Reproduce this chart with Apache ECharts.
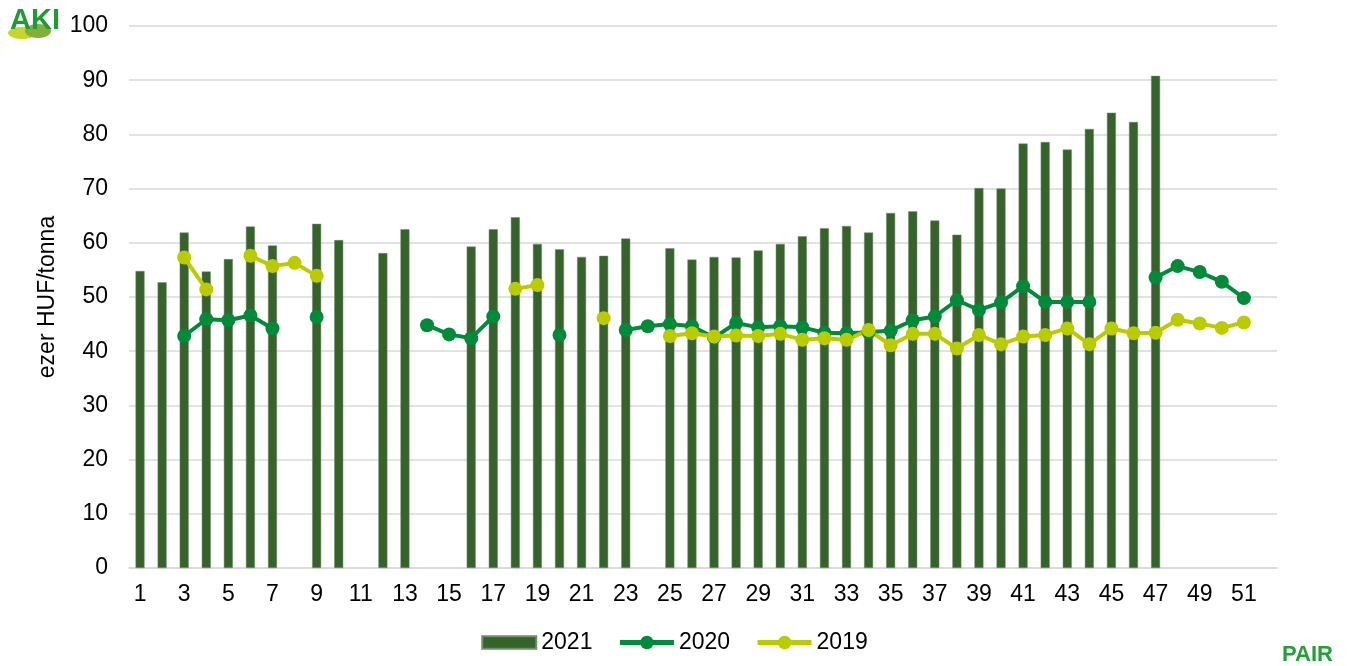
<!DOCTYPE html>
<html>
<head>
<meta charset="utf-8">
<script src="https://cdn.jsdelivr.net/npm/echarts@6/dist/echarts.min.js"></script>
<style>
html,body{margin:0;padding:0;background:#fff;}
#chart{width:1349px;height:666px;}
</style>
</head>
<body>
<div id="chart"></div>
<script>
var weeks = [];
for (var i = 1; i <= 52; i++) weeks.push(String(i));

var s2021 = [54.8,52.7,61.9,54.7,57.0,63.0,59.5,null,63.5,60.5,
             null,58.1,62.5,null,null,59.3,62.5,64.7,59.8,58.8,
             57.4,57.6,60.8,null,59.0,56.9,57.4,57.3,58.6,59.8,
             61.2,62.7,63.1,61.9,65.5,65.8,64.1,61.5,70.1,70.0,
             78.3,78.6,77.2,81.0,84.0,82.3,90.8,null,null,null,
             null,null];

var s2020 = [null,null,42.8,45.9,45.7,46.6,44.2,null,46.3,null,
             null,null,null,44.8,43.1,42.4,46.4,null,null,43.0,
             null,null,43.9,44.6,45.0,44.6,42.5,45.2,44.4,44.6,
             44.4,43.4,43.3,43.5,43.8,45.7,46.4,49.4,47.6,49.0,
             52.0,49.1,49.1,49.1,null,null,53.6,55.7,54.6,52.8,
             49.8,null];

var s2019 = [null,null,57.3,51.4,null,57.6,55.7,56.3,53.9,null,
             null,null,null,null,null,null,null,51.5,52.2,null,
             null,46.1,null,null,42.8,43.3,42.7,42.9,42.8,43.2,
             42.1,42.4,42.1,43.9,41.1,43.2,43.2,40.5,43.0,41.3,
             42.7,43.0,44.2,41.3,44.2,43.3,43.4,45.8,45.1,44.3,
             45.3,null];

var chart = echarts.init(document.getElementById('chart'));
var txt = '#000000';
var font = "'Liberation Sans', Arial, sans-serif";
var fs = 23;
chart.setOption({
  animation: false,
  textStyle: {fontFamily: font},
  grid: {left: 129, right: 72, top: 26, bottom: 98, containLabel: false},
  legend: {
    top: 626,
    left: 'center',
    itemGap: 25,
    itemWidth: 54,
    itemHeight: 17,
    symbolKeepAspect: true,
    textStyle: {fontSize: fs, color: txt, fontFamily: font},
    data: [
      {name: '2021', icon: 'path://M0,0 L52,0 L52,12 L0,12 Z'},
      {name: '2020', lineStyle: {width: 5}},
      {name: '2019', lineStyle: {width: 5}}
    ]
  },
  xAxis: {
    type: 'category',
    data: weeks,
    boundaryGap: true,
    axisLine: {show: true, lineStyle: {color: '#d9d9d9', width: 1.5}},
    axisTick: {show: false},
    axisLabel: {interval: 1, color: txt, fontSize: fs, margin: 15, fontFamily: font}
  },
  yAxis: {
    type: 'value',
    min: 0, max: 100, interval: 10,
    name: 'ezer HUF/tonna',
    nameLocation: 'middle',
    nameGap: 69,
    nameTextStyle: {fontSize: fs, color: txt, fontFamily: font},
    axisLine: {show: false},
    axisTick: {show: false},
    axisLabel: {color: txt, fontSize: fs, margin: 21, fontFamily: font},
    splitLine: {lineStyle: {color: '#d9d9d9', width: 1.5}}
  },
  series: [
    {
      name: '2021', type: 'bar', data: s2021, barWidth: 9,
      itemStyle: {color: '#36622c', borderColor: '#6f8f68', borderWidth: 0.5}
    },
    {
      name: '2020', type: 'line', data: s2020,
      symbol: 'circle', symbolSize: 14, showAllSymbol: true,
      lineStyle: {color: '#008a39', width: 4},
      itemStyle: {color: '#008a39'},
      connectNulls: false
    },
    {
      name: '2019', type: 'line', data: s2019,
      symbol: 'circle', symbolSize: 14, showAllSymbol: true,
      lineStyle: {color: '#bacc00', width: 4},
      itemStyle: {color: '#bacc00'},
      connectNulls: false
    }
  ],
  graphic: [
    {type: 'ellipse', shape: {cx: 22, cy: 33, rx: 14, ry: 6}, style: {fill: '#c6d62a'}},
    {type: 'ellipse', shape: {cx: 38, cy: 31, rx: 13, ry: 7}, style: {fill: '#7fb03a'}},
    {type: 'text', left: 10, top: 6, style: {text: 'AKI', fontSize: 29, fontWeight: 'bold', fill: '#1f9a35', fontFamily: font}},
    {type: 'text', left: 1282, top: 644, style: {text: 'PAIR', fontSize: 22, fontWeight: 'bold', fill: '#24a038', fontFamily: font}}
  ]
});
</script>
</body>
</html>
